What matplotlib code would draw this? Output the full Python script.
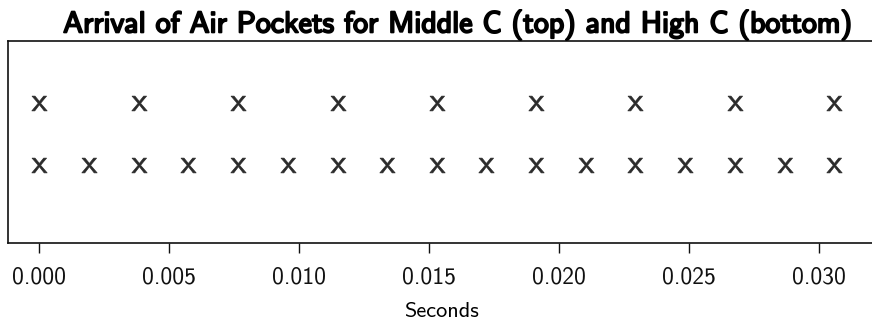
import matplotlib
matplotlib.use("Agg")
import matplotlib.pyplot as plt
import matplotlib.patheffects as pe

# arrival times (s) of the air pockets, one row per note
middle_c = [0.0, 0.00382, 0.00764, 0.01147, 0.01529, 0.01911, 0.02293, 0.02676, 0.03058]
high_c = [0.0, 0.00191, 0.00382, 0.00573, 0.00764, 0.00956, 0.01147, 0.01338, 0.01529,
          0.01720, 0.01911, 0.02102, 0.02293, 0.02485, 0.02676, 0.02867, 0.03058]
rows = [1, 0]  # middle C on top, high C below
xticks = [0.000, 0.005, 0.010, 0.015, 0.020, 0.025, 0.030]

plt.rcParams['font.family'] = ['cmss10', 'DejaVu Sans']
plt.rcParams['mathtext.fontset'] = 'cm'
plt.rcParams['axes.unicode_minus'] = False

fig = plt.figure(figsize=(8.72, 3.25), dpi=100)
ax = fig.add_axes([7.5 / 872, 1 - 243.3 / 325, (880 - 7.5) / 872, (243.3 - 40.7) / 325])

mk = dict(linestyle='none', marker=r'$\mathsf{x}$', markersize=11, markeredgewidth=0.5,
          color='#2a2a2a')
ax.plot(middle_c, [rows[0]] * len(middle_c), **mk)
ax.plot(high_c, [rows[1]] * len(high_c), **mk)

ax.set_xlim(-0.001223, 0.032335)
ax.set_ylim(-1.263, 2.005)
ax.set_yticks([])
ax.set_xticks(xticks)
ax.set_xticklabels(['%.3f' % t for t in xticks])
ax.tick_params(axis='x', direction='out', length=7, width=1.0, pad=10,
               labelsize=17, colors='#111111')
for s in ax.spines.values():
    s.set_linewidth(1.2)
    s.set_color('#111111')

t = ax.set_title('Arrival of Air Pockets for Middle C (top) and High C (bottom)',
                 fontsize=21.5, x=(458 - 7.5) / 872.5, pad=6, color='black')
t.set_path_effects([pe.withStroke(linewidth=1.4, foreground='black')])

ax.set_xlabel('Seconds', fontsize=16)
ax.xaxis.set_label_coords((441 - 7.5) / 872.5, -0.29)

fig.savefig('out.png', dpi=100)
